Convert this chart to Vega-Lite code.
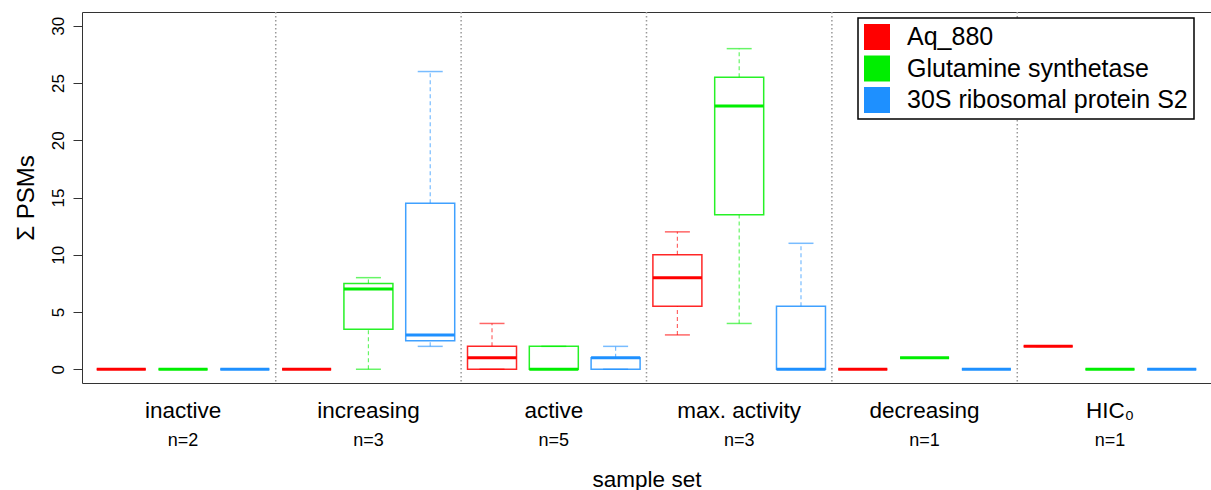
{
  "$schema": "https://vega.github.io/schema/vega-lite/v6.json",
  "width": 1129,
  "height": 371,
  "autosize": {"type": "none"},
  "padding": {"left": 82, "top": 12, "right": 0, "bottom": 107},
  "background": "white",
  "config": {
    "font": "Liberation Sans",
    "view": {"stroke": "#333333", "strokeWidth": 1}
  },
  "datasets": {
    "boxes": [
      {"group": "inactive", "protein": "Aq_880", "min": 0, "q1": 0, "median": 0, "q3": 0, "max": 0},
      {"group": "inactive", "protein": "Glutamine synthetase", "min": 0, "q1": 0, "median": 0, "q3": 0, "max": 0},
      {"group": "inactive", "protein": "30S ribosomal protein S2", "min": 0, "q1": 0, "median": 0, "q3": 0, "max": 0},
      {"group": "increasing", "protein": "Aq_880", "min": 0, "q1": 0, "median": 0, "q3": 0, "max": 0},
      {"group": "increasing", "protein": "Glutamine synthetase", "min": 0, "q1": 3.5, "median": 7, "q3": 7.5, "max": 8},
      {"group": "increasing", "protein": "30S ribosomal protein S2", "min": 2, "q1": 2.5, "median": 3, "q3": 14.5, "max": 26},
      {"group": "active", "protein": "Aq_880", "min": 0, "q1": 0, "median": 1, "q3": 2, "max": 4},
      {"group": "active", "protein": "Glutamine synthetase", "min": 0, "q1": 0, "median": 0, "q3": 2, "max": 2},
      {"group": "active", "protein": "30S ribosomal protein S2", "min": 0, "q1": 0, "median": 1, "q3": 1, "max": 2},
      {"group": "max. activity", "protein": "Aq_880", "min": 3, "q1": 5.5, "median": 8, "q3": 10, "max": 12},
      {"group": "max. activity", "protein": "Glutamine synthetase", "min": 4, "q1": 13.5, "median": 23, "q3": 25.5, "max": 28},
      {"group": "max. activity", "protein": "30S ribosomal protein S2", "min": 0, "q1": 0, "median": 0, "q3": 5.5, "max": 11},
      {"group": "decreasing", "protein": "Aq_880", "min": 0, "q1": 0, "median": 0, "q3": 0, "max": 0},
      {"group": "decreasing", "protein": "Glutamine synthetase", "min": 1, "q1": 1, "median": 1, "q3": 1, "max": 1},
      {"group": "decreasing", "protein": "30S ribosomal protein S2", "min": 0, "q1": 0, "median": 0, "q3": 0, "max": 0},
      {"group": "HIC₀", "protein": "Aq_880", "min": 2, "q1": 2, "median": 2, "q3": 2, "max": 2},
      {"group": "HIC₀", "protein": "Glutamine synthetase", "min": 0, "q1": 0, "median": 0, "q3": 0, "max": 0},
      {"group": "HIC₀", "protein": "30S ribosomal protein S2", "min": 0, "q1": 0, "median": 0, "q3": 0, "max": 0}
    ],
    "dividers": [
      {"group": "increasing"},
      {"group": "active"},
      {"group": "max. activity"},
      {"group": "decreasing"},
      {"group": "HIC₀"}
    ]
  },
  "layer": [
    {
      "data": {"name": "dividers"},
      "mark": {"type": "rule", "color": "#999999", "strokeDash": [1.5, 2.5], "strokeWidth": 1.5},
      "encoding": {
        "x": {
          "field": "group", "type": "nominal", "bandPosition": 0,
          "scale": {"domain": ["inactive", "increasing", "active", "max. activity", "decreasing", "HIC₀"], "paddingInner": 0, "paddingOuter": 0.045},
          "axis": {
            "orient": "bottom", "ticks": false, "domain": false, "grid": false, "labelAngle": 0,
            "labelFontSize": 18, "labelColor": "black", "labelPadding": 48,
            "labelExpr": "datum.value == 'inactive' ? 'n=2' : datum.value == 'active' ? 'n=5' : (datum.value == 'increasing' || datum.value == 'max. activity') ? 'n=3' : 'n=1'",
            "title": "sample set", "titleFontSize": 22.5, "titleFontWeight": "normal", "titleColor": "black", "titlePadding": 19
          }
        }
      }
    },
    {
      "data": {"name": "boxes"},
      "mark": {"type": "rule", "strokeDash": [4, 3], "strokeWidth": 1.2, "opacity": 0.6},
      "encoding": {
        "x": {
          "field": "group", "type": "nominal",
          "scale": {"domain": ["inactive", "increasing", "active", "max. activity", "decreasing", "HIC₀"], "paddingInner": 0, "paddingOuter": 0.045},
          "axis": {
            "orient": "bottom", "ticks": false, "domain": false, "grid": false, "labelAngle": 0,
            "labelFontSize": 22.5, "labelColor": "black", "labelPadding": 16, "title": null
          }
        },
        "xOffset": {"field": "protein", "type": "nominal", "scale": {"domain": ["Aq_880", "Glutamine synthetase", "30S ribosomal protein S2"], "paddingInner": 0, "paddingOuter": 0}},
        "y": {
          "field": "min", "type": "quantitative", "title": "Σ PSMs",
          "scale": {"domain": [-1.2, 31.2], "nice": false, "zero": false},
          "axis": {
            "values": [0, 5, 10, 15, 20, 25, 30], "labelAngle": 270, "labelAlign": "center", "labelBaseline": "bottom",
            "labelFontSize": 17, "labelColor": "black", "labelPadding": 6, "tickSize": 9, "tickColor": "#333333",
            "domain": false, "grid": false, "titleFontSize": 24, "titleFontWeight": "normal", "titleColor": "black", "titlePadding": 11
          }
        },
        "y2": {"field": "q1"},
        "color": {"field": "protein", "type": "nominal", "scale": {"domain": ["Aq_880", "Glutamine synthetase", "30S ribosomal protein S2"], "range": ["#ff0000", "#00ee00", "#1e90ff"]}}
      }
    },
    {
      "data": {"name": "boxes"},
      "mark": {"type": "rule", "strokeDash": [4, 3], "strokeWidth": 1.2, "opacity": 0.6},
      "encoding": {
        "x": {"field": "group", "type": "nominal", "scale": {"domain": ["inactive", "increasing", "active", "max. activity", "decreasing", "HIC₀"], "paddingInner": 0, "paddingOuter": 0.045}, "axis": null},
        "xOffset": {"field": "protein", "type": "nominal", "scale": {"domain": ["Aq_880", "Glutamine synthetase", "30S ribosomal protein S2"], "paddingInner": 0, "paddingOuter": 0}},
        "y": {"field": "q3", "type": "quantitative", "title": "Σ PSMs"},
        "y2": {"field": "max"},
        "color": {"field": "protein", "type": "nominal"}
      }
    },
    {
      "data": {"name": "boxes"},
      "mark": {"type": "tick", "size": 25, "thickness": 1.5, "opacity": 0.6},
      "encoding": {
        "x": {"field": "group", "type": "nominal", "scale": {"domain": ["inactive", "increasing", "active", "max. activity", "decreasing", "HIC₀"], "paddingInner": 0, "paddingOuter": 0.045}, "axis": null},
        "xOffset": {"field": "protein", "type": "nominal", "scale": {"domain": ["Aq_880", "Glutamine synthetase", "30S ribosomal protein S2"], "paddingInner": 0, "paddingOuter": 0}},
        "y": {"field": "max", "type": "quantitative", "title": "Σ PSMs"},
        "color": {"field": "protein", "type": "nominal"}
      }
    },
    {
      "data": {"name": "boxes"},
      "mark": {"type": "tick", "size": 25, "thickness": 1.5, "opacity": 0.6},
      "encoding": {
        "x": {"field": "group", "type": "nominal", "scale": {"domain": ["inactive", "increasing", "active", "max. activity", "decreasing", "HIC₀"], "paddingInner": 0, "paddingOuter": 0.045}, "axis": null},
        "xOffset": {"field": "protein", "type": "nominal", "scale": {"domain": ["Aq_880", "Glutamine synthetase", "30S ribosomal protein S2"], "paddingInner": 0, "paddingOuter": 0}},
        "y": {"field": "min", "type": "quantitative", "title": "Σ PSMs"},
        "color": {"field": "protein", "type": "nominal"}
      }
    },
    {
      "data": {"name": "boxes"},
      "mark": {"type": "bar", "filled": false, "strokeWidth": 1.5, "strokeOpacity": 0.85, "width": 49},
      "encoding": {
        "x": {"field": "group", "type": "nominal", "scale": {"domain": ["inactive", "increasing", "active", "max. activity", "decreasing", "HIC₀"], "paddingInner": 0, "paddingOuter": 0.045}, "axis": null},
        "xOffset": {"field": "protein", "type": "nominal", "scale": {"domain": ["Aq_880", "Glutamine synthetase", "30S ribosomal protein S2"], "paddingInner": 0, "paddingOuter": 0}},
        "y": {"field": "q1", "type": "quantitative", "title": "Σ PSMs"},
        "y2": {"field": "q3"},
        "color": {"field": "protein", "type": "nominal"}
      }
    },
    {
      "data": {"name": "boxes"},
      "mark": {"type": "tick", "size": 49, "thickness": 3, "opacity": 1},
      "encoding": {
        "x": {"field": "group", "type": "nominal", "scale": {"domain": ["inactive", "increasing", "active", "max. activity", "decreasing", "HIC₀"], "paddingInner": 0, "paddingOuter": 0.045}, "axis": null},
        "xOffset": {"field": "protein", "type": "nominal", "scale": {"domain": ["Aq_880", "Glutamine synthetase", "30S ribosomal protein S2"], "paddingInner": 0, "paddingOuter": 0}},
        "y": {"field": "median", "type": "quantitative", "title": "Σ PSMs"},
        "color": {
          "field": "protein", "type": "nominal",
          "legend": {
            "title": null, "orient": "none", "legendX": 776, "legendY": 6,
            "symbolType": "square", "symbolSize": 676, "symbolStrokeWidth": 0, "symbolOpacity": 1,
            "labelFontSize": 25, "labelColor": "black", "labelOffset": 17, "rowPadding": 5.5, "padding": 6,
            "strokeColor": "black", "fillColor": "white", "labelLimit": 400,
            "encode": {
              "symbols": {"update": {"fill": {"scale": "color", "field": "value"}, "stroke": {"value": "transparent"}, "opacity": {"value": 1}}},
              "legend": {"update": {"strokeWidth": {"value": 1.5}}}
            }
          }
        }
      }
    }
  ],
  "resolve": {"axis": {"x": "independent"}}
}
